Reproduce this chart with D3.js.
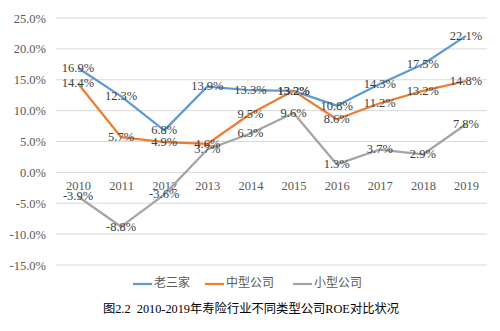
<!DOCTYPE html>
<html><head><meta charset="utf-8">
<script src="https://cdn.jsdelivr.net/npm/d3@7"></script>
<style>body{margin:0;background:#fff}svg{display:block}</style>
</head><body>
<div id="chart"></div>
<script>
const years = ["2010","2011","2012","2013","2014","2015","2016","2017","2018","2019"];
const big3 = [16.9,12.3,6.8,13.9,13.3,13.2,10.8,14.3,17.5,22.1];
const mid = [14.4,5.7,4.9,4.6,9.5,13.2,8.6,11.2,13.2,14.8];
const small = [-3.9,-8.8,-3.6,3.7,6.3,9.6,1.3,3.7,2.9,7.8];
const seriesNames = ["老三家","中型公司","小型公司"];
const yTicks = [25,20,15,10,5,0,-5,-10,-15];
const caption = "图2.2  2010-2019年寿险行业不同类型公司ROE对比状况";

const colors = ["#5b9bd5","#ed7d31","#a5a5a5"];
const W=500,H=331;
const svg=d3.select("#chart").append("svg").attr("width",W).attr("height",H);
const numFont="'Liberation Serif','Times New Roman',serif";
const pct=d=>(d<0?"-":"")+Math.abs(d).toFixed(1)+"%";
const x=d3.scalePoint().domain(years).range([78,466]);
const y=d3.scaleLinear().domain([-15,25]).range([265,18]);

const grid=svg.append("g");
grid.selectAll("line").data(yTicks).join("line")
  .attr("x1",56).attr("x2",487).attr("y1",d=>y(d)).attr("y2",d=>y(d))
  .attr("stroke","#d9d9d9").attr("stroke-width",1);

const yAxis=svg.append("g").attr("transform","translate(46,0)")
  .call(d3.axisLeft(y).tickValues(yTicks).tickSize(0).tickPadding(0).tickFormat(pct));
yAxis.select(".domain").remove();
yAxis.selectAll("text").attr("font-family",numFont).attr("font-size",12.5).attr("fill","#595959");

const xAxis=svg.append("g").attr("transform",`translate(0,${y(0)})`)
  .call(d3.axisBottom(x).tickSize(0).tickPadding(9));
xAxis.select(".domain").remove();
xAxis.selectAll("text").attr("font-family",numFont).attr("font-size",12.5).attr("fill","#595959");

const data=[big3,mid,small];
const line=d3.line().x((d,i)=>x(years[i])).y(d=>y(d));
data.forEach((s,k)=>{
  svg.append("path").datum(s).attr("d",line).attr("fill","none")
    .attr("stroke",colors[k]).attr("stroke-width",2.25).attr("stroke-linejoin","round");
});
data.forEach((s,k)=>{
  svg.append("g").selectAll("text").data(s).join("text")
    .attr("x",(d,i)=>x(years[i])).attr("y",d=>y(d)+1)
    .attr("text-anchor","middle").attr("dominant-baseline","middle")
    .attr("font-family",numFont).attr("font-size",12.5).attr("fill","#404040")
    .text(pct);
});

const leg=svg.append("g").attr("transform","translate(0,284)");
const legX=[133,205,293];
seriesNames.forEach((n,k)=>{
  leg.append("line").attr("x1",legX[k]).attr("x2",legX[k]+19).attr("y1",0).attr("y2",0)
    .attr("stroke",colors[k]).attr("stroke-width",2.25);
  leg.append("text").attr("x",legX[k]+21).attr("y",0).attr("dominant-baseline","middle")
    .attr("font-family","'Noto Sans CJK SC',sans-serif").attr("font-size",12).attr("fill","#595959").text(n);
});

svg.append("text").attr("x",251).attr("y",310).attr("text-anchor","middle").attr("dominant-baseline","middle")
  .attr("font-family","'Liberation Serif','Noto Sans CJK SC',serif").attr("font-size",12.3).attr("fill","#000")
  .style("white-space","pre").text(caption);
</script>
</body></html>
